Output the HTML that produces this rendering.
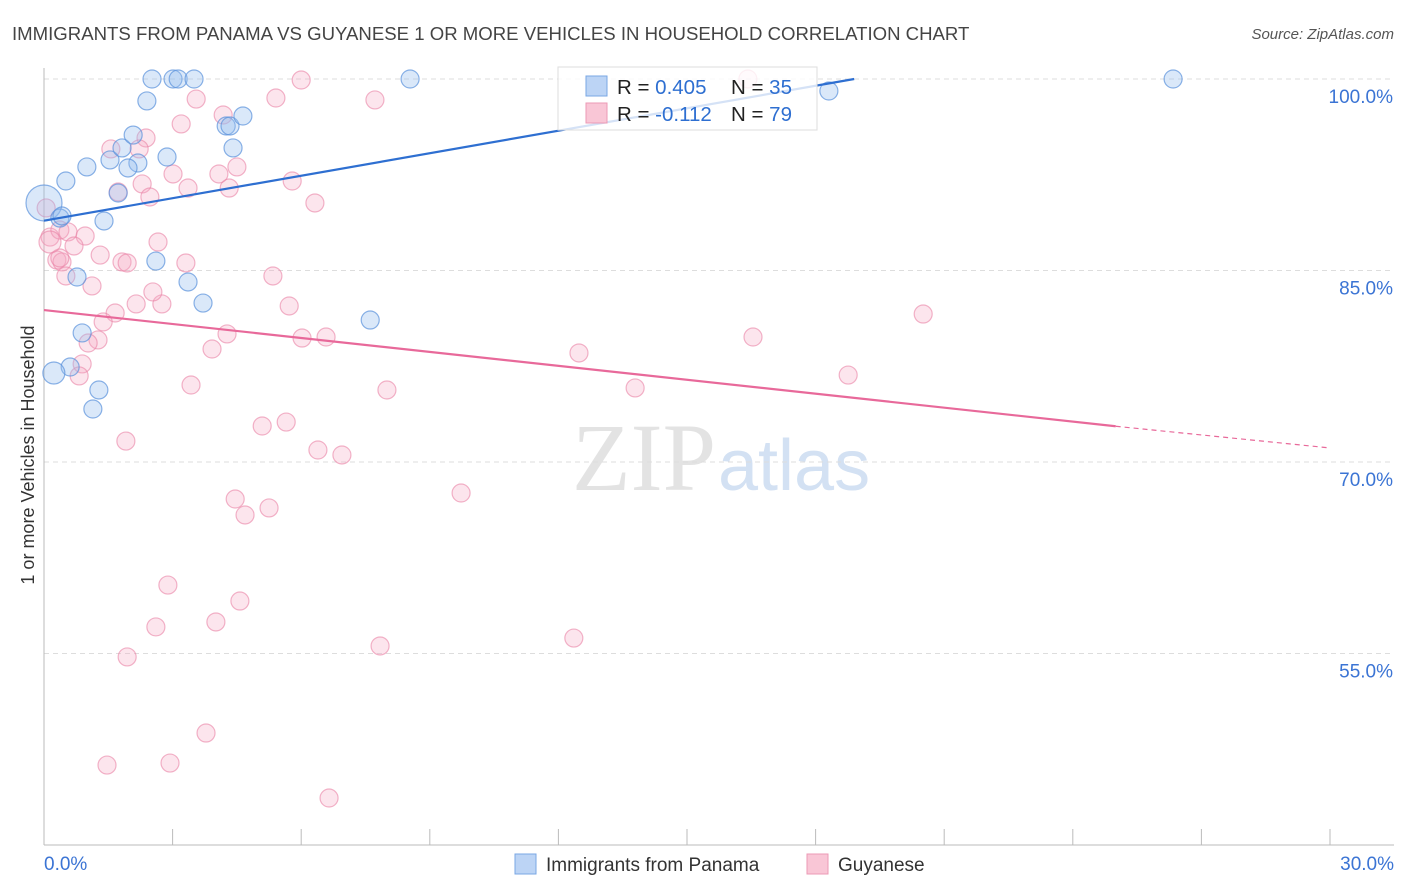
<!DOCTYPE html>
<html><head><meta charset="utf-8"><style>
body{margin:0;background:#fff;font-family:"Liberation Sans",sans-serif;}
#wrap{position:relative;width:1406px;height:892px;overflow:hidden}
</style></head><body>
<div id="wrap">
<svg id="svg" width="1406" height="892" xmlns="http://www.w3.org/2000/svg">
<text x="12" y="40" font-size="18.6" fill="#444">IMMIGRANTS FROM PANAMA VS GUYANESE 1 OR MORE VEHICLES IN HOUSEHOLD CORRELATION CHART</text>
<text x="1394" y="39" font-size="15" fill="#555" font-style="italic" text-anchor="end">Source: ZipAtlas.com</text>
<text x="34" y="455" font-size="18" fill="#333" text-anchor="middle" transform="rotate(-90 34 455)">1 or more Vehicles in Household</text>
<text x="716" y="490" font-size="96" fill="#e3e3e3" font-family="Liberation Serif,serif" text-anchor="end">ZIP</text>
<text x="718" y="490" font-size="72" fill="#d3e1f3">atlas</text>
<g id="grid"></g><g id="axes"></g><g id="pts"></g><g id="lines"></g>
<g>
<rect x="558" y="67" width="259" height="63" fill="rgba(255,255,255,0.8)" stroke="#ddd"/>
<rect x="586" y="76" width="21" height="20" fill="#bcd4f5" stroke="#7aa7e4"/>
<rect x="586" y="103" width="21" height="20" fill="#f9c6d6" stroke="#ec9ab5"/>
<text x="617" y="94" font-size="20.5" fill="#222">R = <tspan fill="#2e6fd1">0.405</tspan></text>
<text x="731" y="94" font-size="20.5" fill="#222">N = <tspan fill="#2e6fd1">35</tspan></text>
<text x="617" y="121" font-size="20.5" fill="#222">R = <tspan fill="#2e6fd1">-0.112</tspan></text>
<text x="731" y="121" font-size="20.5" fill="#222">N = <tspan fill="#2e6fd1">79</tspan></text>
</g>
<g>
<rect x="515" y="854" width="21" height="20" fill="#bcd4f5" stroke="#7aa7e4"/>
<text x="546" y="871" font-size="19" fill="#333">Immigrants from Panama</text>
<rect x="807" y="854" width="21" height="20" fill="#f9c6d6" stroke="#ec9ab5"/>
<text x="838" y="871" font-size="19" fill="#333">Guyanese</text>
</g>
</svg>
</div>
<script>
const blueX=[0,0.37,0.51,1.00,1.40,0.77,0.89,0.61,0.23,1.28,1.14,1.54,1.82,2.08,2.19,1.96,1.73,2.40,2.52,3.01,3.13,3.50,2.87,2.61,3.36,3.71,4.25,4.34,4.64,4.41,7.61,8.54,18.31,26.34,0.42];
const blueY=[90.29,89.11,92.01,93.11,88.88,84.49,80.11,77.44,76.97,75.64,74.15,93.66,94.60,95.61,93.42,93.03,91.07,98.28,100,100,100,100,93.89,85.74,84.10,82.45,96.32,96.32,97.10,94.60,81.12,100,99.06,100,89.27];
const pinkX=[6.00,5.41,7.72,3.55,3.20,4.18,4.50,4.32,5.79,6.32,4.08,3.01,3.36,2.38,2.22,1.56,1.73,2.29,2.47,16.42,0.14,0.05,0.37,0.56,0.96,0.30,0.42,0.70,1.31,0.51,1.12,1.82,2.66,2.15,1.66,3.31,2.75,2.54,1.38,1.26,1.03,0.89,0.82,4.27,3.92,6.02,6.58,5.72,5.34,3.43,1.91,8.00,5.09,5.65,6.39,6.95,4.46,4.69,5.25,9.73,2.89,4.57,2.61,4.01,1.94,7.84,12.36,3.78,1.47,2.94,6.65,12.48,13.79,16.54,18.76,20.51,0.37,0.14,1.94];
const pinkY=[99.92,98.51,98.36,98.43,96.48,97.18,93.11,91.46,92.01,90.29,92.56,92.56,91.46,95.38,94.52,94.52,91.15,91.78,90.76,100,87.62,89.90,88.17,88.02,87.70,85.82,85.67,86.92,86.21,84.57,83.79,85.67,87.23,82.38,81.67,85.59,82.38,83.32,80.97,79.56,79.32,77.68,76.74,80.03,78.85,79.71,79.79,82.22,84.57,76.03,71.64,75.64,72.82,73.13,70.94,70.55,67.10,65.85,66.40,67.57,60.36,59.11,57.08,57.47,54.73,55.59,56.21,48.77,46.26,46.42,43.68,78.54,75.80,79.79,76.81,81.59,85.98,87.23,85.59];
const yTicks=[100,85,70,55];
const yTickLabels=["100.0%","85.0%","70.0%","55.0%"];
const blueLine=[[0,88.9],[18.9,100]];
const pinkLine=[[0,81.9],[25,72.8],[30,71.1]];
const NS="http://www.w3.org/2000/svg";
const X=v=>44+v/30*1286, Y=v=>79+(100-v)/15*191.5;
function mk(t,a,p){const e=document.createElementNS(NS,t);for(const k in a)e.setAttribute(k,a[k]);p.appendChild(e);return e;}
const grid=document.getElementById('grid'),axes=document.getElementById('axes'),pts=document.getElementById('pts'),lines=document.getElementById('lines');
yTicks.forEach((t,i)=>{
 const l=mk('line',{x1:44,x2:1394,y1:Y(t),y2:Y(t),stroke:'#ddd','stroke-dasharray':'5,4'},grid);
 
 
 const tx=mk('text',{x:1393,y:Y(t)+24,'font-size':19,fill:'#3b74d4','text-anchor':'end'},axes);
 tx.textContent=yTickLabels[i];
 
 
});
let ax=mk('line',{x1:44,x2:44,y1:68,y2:845,stroke:'#bbb'},axes);


ax=mk('line',{x1:44,x2:1394,y1:845,y2:845,stroke:'#bbb'},axes);


for(let i=0;i<=10;i++){const t=mk('line',{x1:X(i*3),x2:X(i*3),y1:829,y2:845,stroke:'#bbb'},axes);
 
 }
[["0.0%",44,'start'],["30.0%",1394,'end']].forEach(d=>{const t=mk('text',{x:d[1],y:870,'font-size':19,fill:'#3b74d4','text-anchor':d[2]},axes);t.textContent=d[0];
 
 });
pinkX.forEach((x,i)=>{const c=mk('circle',{cx:X(x),cy:Y(pinkY[i]),r:(i==77?11:9),fill:'rgba(246,170,196,0.3)',stroke:'rgba(234,130,165,0.6)','stroke-width':1.2},pts);
 
 });
blueX.forEach((x,i)=>{const c=mk('circle',{cx:X(x),cy:Y(blueY[i]),r:(i==0?18:i==8?11:9),fill:'rgba(150,188,238,0.35)',stroke:'rgba(90,145,220,0.7)','stroke-width':1.2},pts);
 
 });
let l=mk('line',{x1:X(blueLine[0][0]),y1:Y(blueLine[0][1]),x2:X(blueLine[1][0]),y2:Y(blueLine[1][1]),stroke:'#2e6fd1','stroke-width':2.2},lines);


l=mk('line',{x1:X(pinkLine[0][0]),y1:Y(pinkLine[0][1]),x2:X(pinkLine[1][0]),y2:Y(pinkLine[1][1]),stroke:'#e8699a','stroke-width':2.2},lines);


l=mk('line',{x1:X(pinkLine[1][0]),y1:Y(pinkLine[1][1]),x2:X(pinkLine[2][0]),y2:Y(pinkLine[2][1]),stroke:'#e8699a','stroke-width':1.2,'stroke-dasharray':'5,4'},lines);


</script>
</body></html>
